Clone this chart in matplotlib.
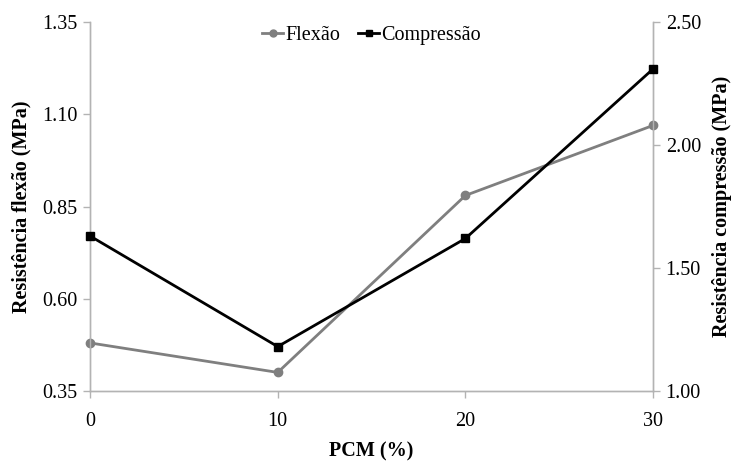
import matplotlib
matplotlib.use("Agg")
import matplotlib.pyplot as plt
from matplotlib.lines import Line2D

pcm = [0, 10, 20, 30]
flexao = [0.48, 0.40, 0.88, 1.07]
compressao = [1.63, 1.18, 1.62, 2.31]

left_ticks = [0.35, 0.60, 0.85, 1.10, 1.35]
right_ticks = [1.00, 1.50, 2.00, 2.50]

plt.rcParams["font.family"] = ["Liberation Serif", "DejaVu Serif"]

fig = plt.figure(figsize=(7.38, 4.62), dpi=100)
ax = fig.add_axes([0.122, 0.154, 0.763, 0.798])
ax2 = ax.twinx()

gray = "#7f7f7f"
spine_c = "#b3b3b3"

ax.plot(pcm, flexao, color=gray, lw=2, marker="o", ms=6, clip_on=False, zorder=3)
ax2.plot(pcm, compressao, color="black", lw=2, marker="s", ms=6, clip_on=False, zorder=3)

ax.set_xlim(0, 30)
ax.set_xticks(pcm)
ax.set_ylim(0.35, 1.35)
ax.set_yticks(left_ticks)
ax.set_yticklabels([f"{v:.2f}" for v in left_ticks])
ax2.set_ylim(1.0, 2.5)
ax2.set_yticks(right_ticks)
ax2.set_yticklabels([f"{v:.2f}" for v in right_ticks])

for a in (ax, ax2):
    a.spines["top"].set_visible(False)
    for s in ("left", "right", "bottom"):
        a.spines[s].set_color(spine_c)
        a.spines[s].set_linewidth(1)
    a.tick_params(axis="both", colors=spine_c, labelcolor="black", labelsize=14.5,
                  length=5, width=1, direction="out")
ax.tick_params(axis="x", pad=10)
ax.tick_params(axis="y", pad=4)
ax2.tick_params(axis="y", pad=4)

ax.set_xlabel("PCM (%)", fontsize=14.5, fontweight="bold", labelpad=8)
ax.set_ylabel("Resistência flexão (MPa)", fontsize=14.5, fontweight="bold", labelpad=8)
ax2.set_ylabel("Resistência compressão (MPa)", fontsize=14.5, fontweight="bold", labelpad=8)

handles = [
    Line2D([], [], color=gray, lw=2, marker="o", ms=5),
    Line2D([], [], color="black", lw=2, marker="s", ms=5),
]
ax.legend(handles, ["Flexão", "Compressão"], loc="center", bbox_to_anchor=(0.5, 0.965),
          ncol=2, frameon=False, fontsize=14.5, handlelength=1.05, handletextpad=0.1,
          columnspacing=0.9)

fig.savefig("out.png", dpi=100)
